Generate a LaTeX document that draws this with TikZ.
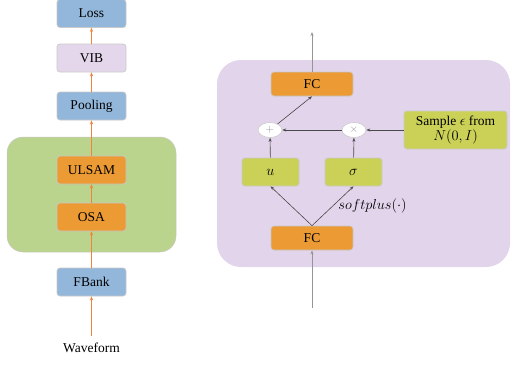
\documentclass[tikz,border=0pt]{standalone}
\usepackage{fontspec}
\setmainfont{Liberation Serif}
\usetikzlibrary{arrows.meta,shapes.geometric}
\definecolor{boxblue}{HTML}{92B7DA}
\definecolor{boxlilac}{HTML}{E4D7EC}
\definecolor{boxorange}{HTML}{EB9A34}
\definecolor{grpgreen}{HTML}{BAD38D}
\definecolor{grppurple}{HTML}{E2D4EB}
\definecolor{boxlime}{HTML}{CBD157}
\definecolor{arrorange}{HTML}{F0843C}
\definecolor{edgegray}{HTML}{C9C9C9}
\definecolor{darkline}{HTML}{4A4A4A}
\definecolor{midline}{HTML}{959595}
\tikzset{
  blk/.style={draw=edgegray, line width=0.7pt, rounded corners=3pt,
    minimum width=69pt, minimum height=28pt, inner sep=0pt, font=\fontsize{13.5}{15}\selectfont},
  bluebox/.style={blk, fill=boxblue},
  lilacbox/.style={blk, fill=boxlilac},
  orangebox/.style={blk, fill=boxorange},
  fcbox/.style={blk, fill=boxorange, minimum width=82pt, minimum height=24pt},
  limebox/.style={blk, fill=boxlime, minimum width=57pt, minimum height=28pt,
    font=\fontsize{14.5}{16}\selectfont},
  opnode/.style={ellipse, draw=edgegray, fill=white, line width=0.6pt,
    minimum width=24pt, minimum height=15pt, inner sep=0pt, text=midline,
    font=\fontsize{11}{12}\selectfont},
  flow/.style={draw=arrorange, line width=0.9pt, -{Stealth[length=4pt,width=3.2pt]}},
  link/.style={draw=darkline, line width=0.6pt, -{Stealth[length=4pt,width=3pt]}},
  trunk/.style={draw=midline, line width=1pt, -{Stealth[length=4pt,width=3pt]}},
}
\begin{document}
\begin{tikzpicture}[x=1pt,y=-1pt]
\useasboundingbox (0,0) rectangle (512,365);

% ---- backbone ----
\fill[grpgreen, draw=edgegray, line width=0.5pt, rounded corners=16pt] (7,137) rectangle (176,252);
\node[bluebox]   (loss) at (91.5,13.5) {Loss};
\node[lilacbox]  (vib)  at (91.5,58)   {VIB};
\node[bluebox]   (pool) at (91.5,106)  {Pooling};
\node[orangebox] (ulsam) at (91.5,170) {ULSAM};
\node[orangebox] (osa)  at (91.5,217)  {OSA};
\node[bluebox]   (fbank) at (91.5,282) {FBank};
\node[font=\fontsize{13.5}{15}\selectfont] (wave) at (91.5,348) {Waveform};
\coordinate (wavetop) at (91.5,336);

\draw[flow] (wavetop) -- (fbank);
\draw[flow] (fbank) -- (osa);
\draw[flow] (osa) -- (ulsam);
\draw[flow] (ulsam) -- (pool);
\draw[flow] (pool) -- (vib);
\draw[flow] (vib) -- (loss);

% ---- VIB module ----
\fill[grppurple, rounded corners=24pt] (217,60) rectangle (510,267);
\node[fcbox] (fctop) at (312,84) {FC};
\node[fcbox] (fcbot) at (312,238) {FC};
\node[limebox] (u) at (270.5,172) {$u$};
\node[limebox] (sig) at (353.5,172) {$\sigma$};
\node[opnode] (plus) at (270,130) {$+$};
\node[opnode] (times) at (354,130) {$\times$};
\node[blk, fill=boxlime, minimum width=103pt, minimum height=38pt, align=center,
  font=\fontsize{13.5}{15}\selectfont] (samp) at (455.5,130) {Sample $\epsilon$ from\\$N(0,I)$};

\coordinate (out) at (312,32);
\coordinate (in) at (312,308);
\draw[trunk] (fctop) -- (out);
\draw[trunk] (in) -- (fcbot);
\draw[link] (fcbot.north) -- (u.south);
\draw[link] (fcbot.north) -- node[pos=0.5, right=2pt, font=\fontsize{14.5}{16}\selectfont] (sp) {$softplus(\cdot)$} (sig.south);
\draw[link] (u) -- (plus);
\draw[link] (sig) -- (times);
\draw[link] (samp) -- (times);
\draw[link] (times) -- (plus);
\draw[link] (plus) -- (fctop.south);
\end{tikzpicture}
\end{document}
